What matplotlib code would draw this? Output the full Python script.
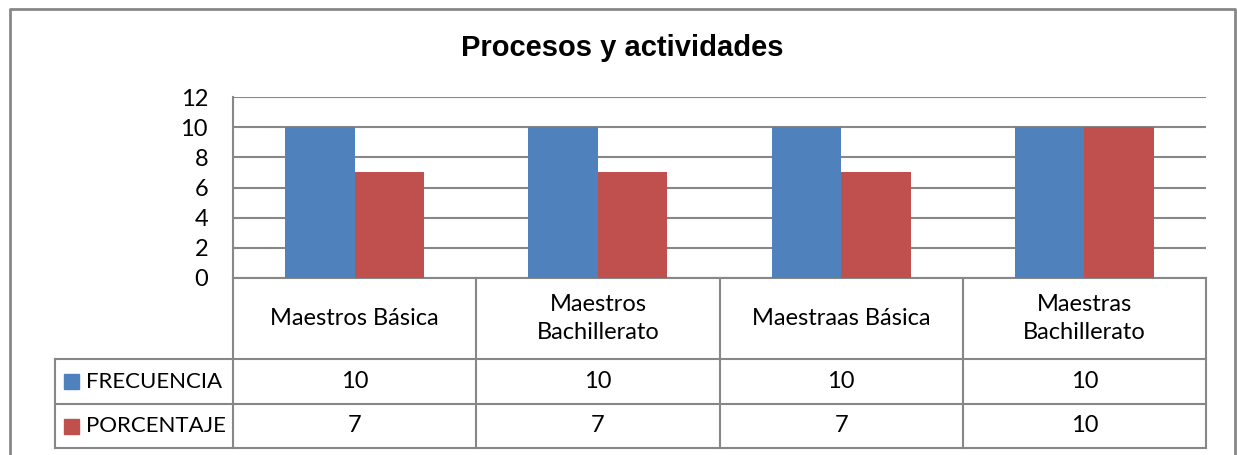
import numpy as np
import matplotlib
matplotlib.use("Agg")
from matplotlib import pyplot as plt

categorias = ["Maestros Básica", "Maestros\nBachillerato", "Maestraas Básica", "Maestras\nBachillerato"]
frecuencia = [10, 10, 10, 10]
porcentaje = [7, 7, 7, 10]
series = ["FRECUENCIA", "PORCENTAJE"]
colores = ["#4F81BD", "#C0504D"]
yticks = [0, 2, 4, 6, 8, 10, 12]

W, H = 1237, 455
fig = plt.figure(figsize=(W / 100, H / 100), dpi=100)
fnt = "Lato"
fs = 17
gris = "#878787"

# overlay in pixel coords for the frame and data table
ov = fig.add_axes([0, 0, 1, 1])
ov.set_xlim(0, W)
ov.set_ylim(H, 0)
ov.axis("off")

# plot area in pixels
x0, x1, ytop, ybot = 233, 1206, 97, 278
ax = fig.add_axes([x0 / W, 1 - ybot / H, (x1 - x0) / W, (ybot - ytop) / H])
ax.set_facecolor("none")

n = len(categorias)
x = np.arange(n)
bw = 1 / 3.5
ax.bar(x - bw / 2, frecuencia, bw, color=colores[0], zorder=3)
ax.bar(x + bw / 2, porcentaje, bw, color=colores[1], zorder=3)
ax.set_xlim(-0.5, n - 0.5)
ax.set_ylim(0, 12)
ax.set_yticks(yticks)
ax.set_yticklabels([str(t) for t in yticks], fontfamily=fnt, fontsize=fs)
ax.tick_params(axis="y", length=0, pad=18)
ax.set_xticks([])
ax.grid(axis="y", color=gris, linewidth=1.5, zorder=0)
for s in ["top", "right", "bottom"]:
    ax.spines[s].set_visible(False)
ax.spines["left"].set_color(gris)
ax.spines["left"].set_linewidth(1.5)

# outer frame
ov.plot([10, 10, 1235, 1235], [H + 5, 9, 9, H + 5], color=gris, lw=2)

ov.text(622, 48, "Procesos y actividades", ha="center", va="center",
        fontfamily="Liberation Sans", fontweight="bold", fontsize=21)

# data table
gw = (x1 - x0) / n
r0, r1, r2, r3 = 278, 359, 404, 448
xl = 55
for i in range(n + 1):
    xv = x0 + i * gw
    ov.plot([xv, xv], [r0, r3], color=gris, lw=1.5)
ov.plot([xl, xl], [r1, r3], color=gris, lw=1.5)
ov.plot([x0, x1], [r0, r0], color=gris, lw=1.5)
for yy in [r1, r2, r3]:
    ov.plot([xl, x1], [yy, yy], color=gris, lw=1.5)

for i, c in enumerate(categorias):
    cx = x0 + (i + 0.5) * gw
    ov.text(cx, (r0 + r1) / 2, c, ha="center", va="center", fontfamily=fnt,
            fontsize=fs, linespacing=1.45)
    ov.text(cx, (r1 + r2) / 2, str(frecuencia[i]), ha="center", va="center",
            fontfamily=fnt, fontsize=fs)
    ov.text(cx, (r2 + r3) / 2, str(porcentaje[i]), ha="center", va="center",
            fontfamily=fnt, fontsize=fs)

for j, (s, col) in enumerate(zip(series, colores)):
    cy = [(r1 + r2) / 2, (r2 + r3) / 2][j]
    ov.add_patch(plt.Rectangle((64, cy - 7.5), 15, 15, color=col))
    ov.text(86, cy, s, ha="left", va="center", fontfamily=fnt, fontsize=16)

fig.savefig("out.png", dpi=100)
